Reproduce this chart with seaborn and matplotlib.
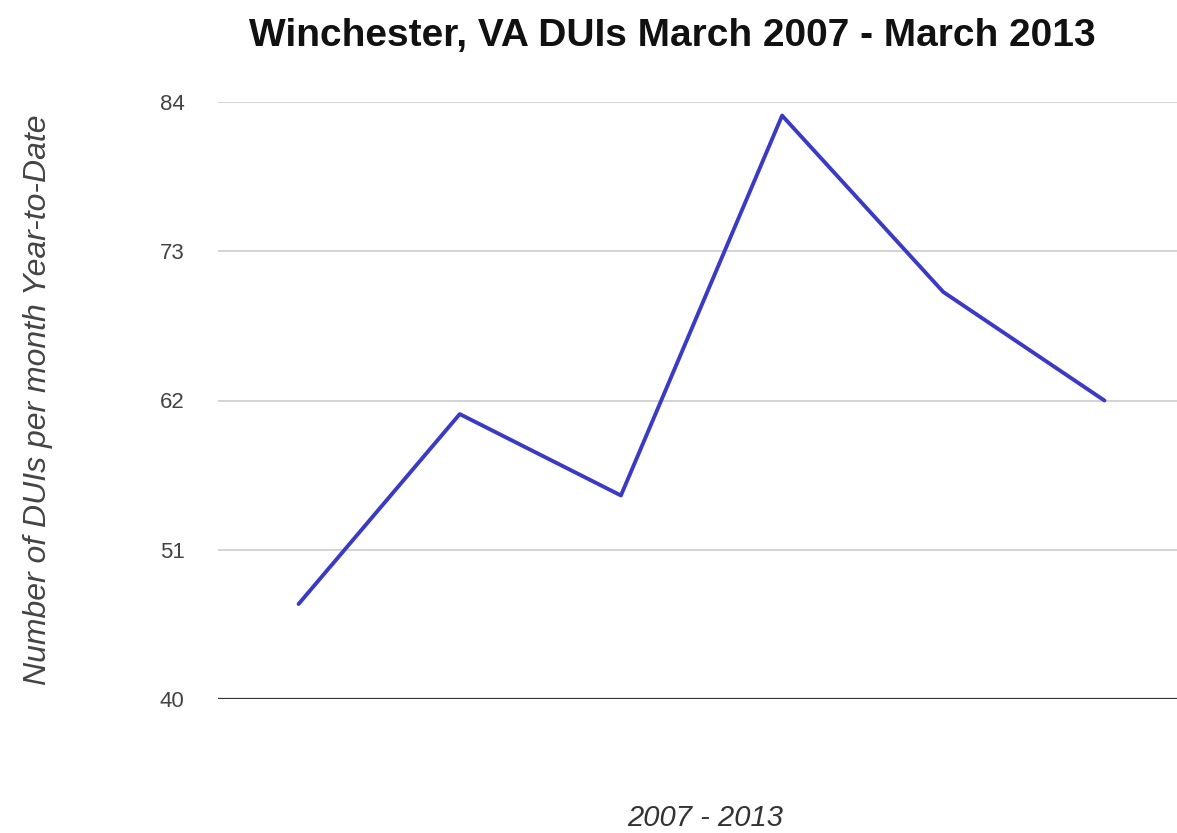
import matplotlib
matplotlib.use("Agg")
import matplotlib.pyplot as plt
import seaborn as sns
import pandas as pd

# Monthly year-to-date DUI counts, one value per March snapshot
periods = ["Mar 2007", "Mar 2008", "Mar 2009", "Mar 2010", "Mar 2011", "Mar 2012"]
duis = [47, 61, 55, 83, 70, 62]
y_ticks = [40, 51, 62, 73, 84]

title = "Winchester, VA DUIs March 2007 - March 2013"
x_label = "2007 - 2013"
y_label = "Number of DUIs per month Year-to-Date"

sns.set_style("white")
plt.rcParams["font.family"] = ["Liberation Sans", "DejaVu Sans"]

df = pd.DataFrame({"pos": range(len(periods)), "duis": duis})

fig = plt.figure(figsize=(11.77, 8.33), dpi=100)
ax = fig.add_axes([218 / 1177, 1 - 699 / 833, (1185 - 218) / 1177, (699 - 102) / 833])

# horizontal gridlines, dark baseline at the bottom
for v in y_ticks:
    if v == y_ticks[0]:
        ax.axhline(v, color="#333333", lw=1.6, zorder=1)
    else:
        ax.axhline(v, color="#cccccc", lw=1.2, zorder=1)

sns.lineplot(data=df, x="pos", y="duis", ax=ax, color="#3a3ac4", lw=2.8, zorder=3)

ax.set_xlim(-0.5, len(periods) - 0.5)
ax.set_ylim(y_ticks[0], y_ticks[-1])
ax.set_yticks(y_ticks)
ax.set_yticklabels([str(v) for v in y_ticks], color="#444444", fontsize=16)
ax.set_xticks([])
ax.tick_params(axis="y", length=0, pad=24)
for s in ax.spines.values():
    s.set_visible(False)
ax.set_xlabel("")
ax.set_ylabel("")
ax.patch.set_alpha(0)

fig.text(672 / 1177, 1 - 36 / 833, title, ha="center", va="center",
         fontsize=28, fontweight="bold", color="#111111")
fig.text(705 / 1177, 1 - 818 / 833, x_label, ha="center", va="center",
         fontsize=21, fontstyle="italic", color="#333333")
fig.text(38 / 1177, 1 - 400 / 833, y_label, ha="center", va="center",
         rotation=90, fontsize=23, fontstyle="italic", color="#444444")

fig.savefig("out.png", dpi=100)
